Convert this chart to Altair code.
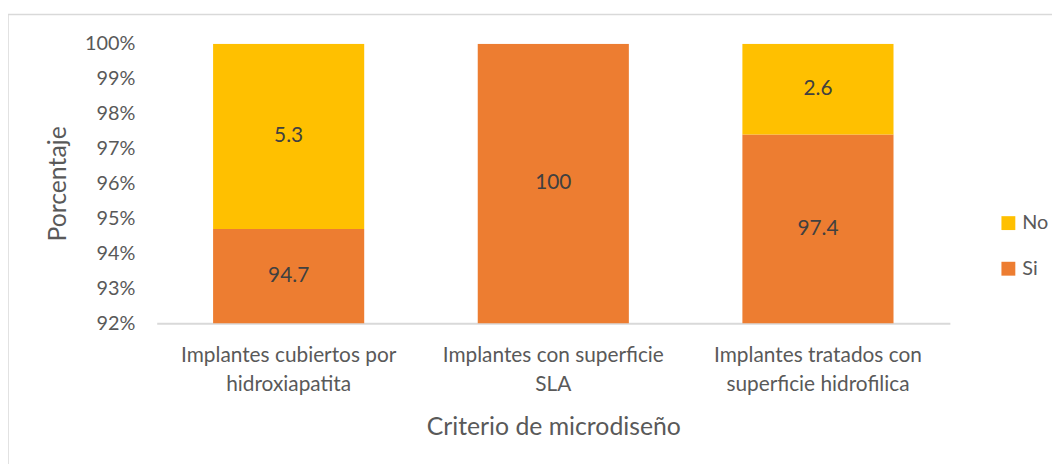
import altair as alt
import pandas as pd

categories = ["Implantes cubiertos por|hidroxiapatita",
              "Implantes con superficie|SLA",
              "Implantes tratados con|superficie hidrofilica"]
si_values = [94.7, 100.0, 97.4]
no_values = [5.3, 0.0, 2.6]
series = ["No", "Si"]
colors = ["#FFC000", "#ED7D31"]
y_ticks = [0.92, 0.93, 0.94, 0.95, 0.96, 0.97, 0.98, 0.99, 1.00]

YMIN = 0.92
rows = []
for c, s, n in zip(categories, si_values, no_values):
    rows.append(dict(cat=c, serie="Si", val=s, start=0.0, end=s / 100))
    if n > 0:
        rows.append(dict(cat=c, serie="No", val=n, start=s / 100, end=(s + n) / 100))
df = pd.DataFrame(rows)
df["mid"] = (df["start"].clip(lower=YMIN) + df["end"]) / 2
df["lab"] = df["val"].map(lambda v: f"{v:g}")

FONT = "Lato"
GREY = "#595959"

x_scale = alt.Scale(paddingInner=0.429, paddingOuter=0.213)
x_axis = alt.Axis(title="Criterio de microdiseño",
                  labelExpr="split(datum.label, '|')",
                  labelAngle=0, labelFontSize=21, labelColor=GREY,
                  labelLineHeight=29, labelPadding=22, labelLimit=0,
                  titleFontSize=25, titleColor=GREY, titleFontWeight="normal",
                  titlePadding=20,
                  domainColor="#D9D9D9", domainWidth=2, ticks=False, grid=False)
y_scale = alt.Scale(domain=[YMIN, 1.0], nice=False)
y_axis = alt.Axis(title="Porcentaje", values=y_ticks, format=".0%",
                  labelFontSize=20, labelColor=GREY, labelPadding=22,
                  labelOverlap=False, tickCount=9,
                  titleFontSize=25, titleColor=GREY, titleFontWeight="normal",
                  titlePadding=14,
                  domain=False, ticks=False, grid=False)

bars = alt.Chart(df).mark_bar(clip=True).encode(
    x=alt.X("cat:N", sort=categories, scale=x_scale, axis=x_axis),
    y=alt.Y("start:Q", scale=y_scale, axis=y_axis),
    y2="end:Q",
    color=alt.Color("serie:N", scale=alt.Scale(domain=series, range=colors),
                    legend=alt.Legend(title=None, orient="none", legendX=849, legendY=171,
                                      symbolType="square", symbolSize=196,
                                      symbolStrokeWidth=0, labelFontSize=20,
                                      labelColor=GREY, labelOffset=4,
                                      rowPadding=26)),
)

labels = alt.Chart(df).mark_text(fontSize=21, color="#404040", font=FONT).encode(
    x=alt.X("cat:N", sort=categories, scale=x_scale, axis=x_axis),
    y=alt.Y("mid:Q", scale=y_scale, axis=y_axis),
    text="lab:N",
)

border = alt.Chart(pd.DataFrame({"a": [0]})).mark_rect(
    fill=None, stroke="#D9D9D9", strokeWidth=1.5
).encode(x=alt.value(-150), x2=alt.value(1100), y=alt.value(-29.5), y2=alt.value(700))

chart = alt.layer(border, bars, labels).properties(
    width=800, height=282,
    autosize=alt.AutoSizeParams(type="none"),
    padding={"left": 150, "top": 34, "right": 103, "bottom": 140},
).configure(font=FONT).configure_view(strokeWidth=0, stroke="transparent").configure_axis(
    grid=False, labelOverlap=False)

chart.save("out.html", embed_options={"renderer": "svg", "actions": False})
